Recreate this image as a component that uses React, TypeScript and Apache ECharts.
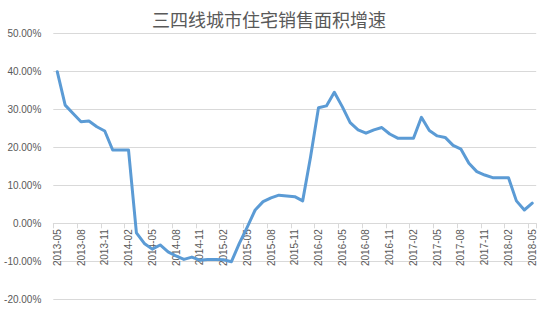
import React, { useEffect, useRef } from "react";
import * as echarts from "echarts";

const months: string[] = [];
for (let y = 2013; y <= 2018; y++) {
  for (let m = 1; m <= 12; m++) {
    if ((y === 2013 && m < 5) || (y === 2018 && m > 5)) continue;
    months.push(`${y}-${m < 10 ? "0" + m : m}`);
  }
}

const growth: number[] = [
  39.9, 31.1, 28.9, 26.7, 26.9, 25.4, 24.3, 19.3, 19.3, 19.3,
  -2.5, -5.3, -6.8, -5.7, -7.5, -8.6, -9.5, -8.9, -9.7, -9.5,
  -9.5, -9.6, -10.1, -5.3, -1.0, 3.5, 5.7, 6.7, 7.4, 7.2,
  7.0, 5.9, 17.5, 30.4, 30.9, 34.5, 30.7, 26.5, 24.6, 23.7,
  24.6, 25.2, 23.5, 22.4, 22.4, 22.4, 27.9, 24.4, 23.0, 22.6,
  20.5, 19.5, 15.8, 13.6, 12.7, 12.0, 12.0, 12.0, 5.9, 3.5,
  5.3,
];

const yMin = -20;
const yMax = 50;
const title = "三四线城市住宅销售面积增速";

export default function App() {
  const ref = useRef<HTMLDivElement>(null);
  useEffect(() => {
    if (!ref.current) return;
    const chart = echarts.init(ref.current, undefined, { renderer: "svg" });
    const gridTop = 33.3;
    const gridBottom = 12.7;
    const plotH = 312 - gridTop - gridBottom;
    // move the category axis up to the zero line
    const zeroOffset = -plotH * (0 - yMin) / (yMax - yMin);
    chart.setOption({
      animation: false,
      backgroundColor: "#ffffff",
      title: {
        text: title,
        left: 147,
        top: 5,
        textStyle: {
          fontFamily: "Noto Sans CJK SC",
          fontSize: 18,
          fontWeight: "normal",
          color: "#595959",
        },
      },
      grid: { left: 53.3, right: 10.8, top: gridTop, bottom: gridBottom, containLabel: false },
      xAxis: {
        type: "category",
        data: months,
        boundaryGap: true,
        position: "bottom",
        offset: zeroOffset,
        axisLine: { onZero: false, lineStyle: { color: "#d9d9d9", width: 1 } },
        axisTick: { show: true, interval: 2, length: 5, lineStyle: { color: "#d9d9d9" } },
        axisLabel: {
          interval: 2,
          rotate: 90,
          margin: 6,
          color: "#595959",
          fontFamily: "Liberation Sans",
          fontSize: 10,
        },
        splitLine: { show: false },
      },
      yAxis: {
        type: "value",
        min: yMin,
        max: yMax,
        interval: 10,
        axisLine: { show: false },
        axisTick: { show: false },
        axisLabel: {
          color: "#595959",
          fontFamily: "Liberation Sans",
          fontSize: 10,
          margin: 12,
          formatter: (v: number) => v.toFixed(2) + "%",
        },
        splitLine: { lineStyle: { color: "#d9d9d9", width: 1 } },
      },
      series: [
        {
          type: "line",
          data: growth,
          symbol: "none",
          lineStyle: { color: "#5b9bd5", width: 3, cap: "round", join: "round" },
        },
      ],
    });
    return () => chart.dispose();
  }, []);
  return (
    <div
      ref={ref}
      style={{ position: "fixed", left: 0, top: 0, width: 547, height: 312 }}
    />
  );
}
